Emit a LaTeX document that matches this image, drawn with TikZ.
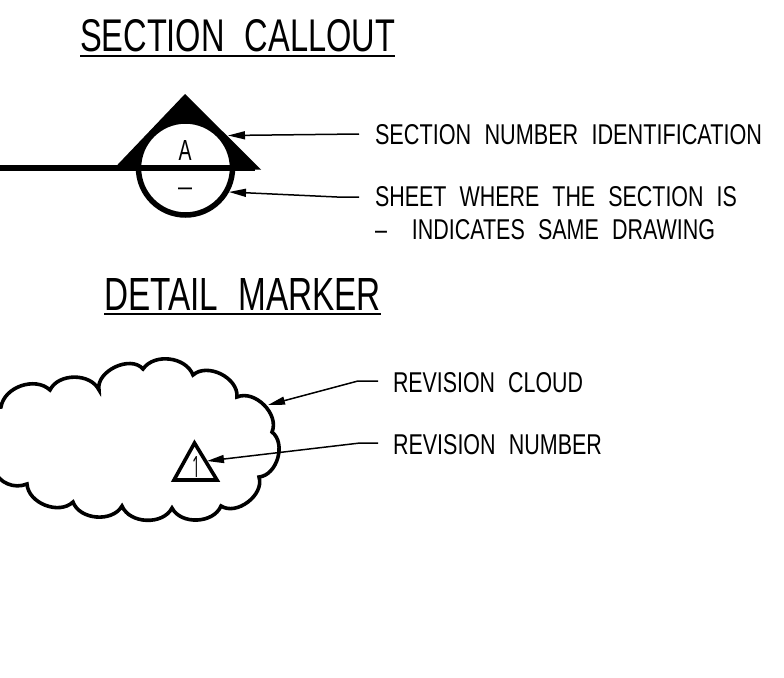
\documentclass[tikz,border=0pt]{standalone}
\usepackage{fontspec}
\setmainfont{Liberation Sans}[WordSpace=2.2]
\newfontfamily\numfont{Open Sans}
\usetikzlibrary{arrows.meta}
\newcommand{\cadtext}[3]{\resizebox{#1pt}{#2pt}{#3}}
\tikzset{
  cadlabel/.style={inner sep=0pt,outer sep=0pt,anchor=south west},
  cadmark/.style={inner sep=0pt,outer sep=0pt,anchor=center},
  leader/.style={line width=1.5pt,-{Triangle[length=17pt,width=8pt]}},
  underline/.style={line width=2pt}
}
\begin{document}
\begin{tikzpicture}[x=1pt,y=-1pt]
\useasboundingbox (0,0) rectangle (784,677);
\clip (0,0) rectangle (784,677);
% titles
\node[cadlabel] (t1) at (80,52) {\cadtext{315}{32}{SECTION CALLOUT}};
\draw[underline] (t1.south west)++(0,4) coordinate (u1a) -- (u1a -| t1.south east);
\node[cadlabel] (t2) at (104,310) {\cadtext{277}{32}{DETAIL MARKER}};
\draw[underline] (t2.south west)++(0,4) coordinate (u2a) -- (u2a -| t2.south east);
% section callout
\coordinate (c) at (185.5,168);
\fill (185,94) -- (261,169.5) -- (113,169.5) -- cycle;
\draw[line width=5.5pt,fill=white] (c) circle[radius=47];
\draw[line width=5.5pt] (0,168) coordinate (w) -- (255,168) coordinate (e);
\node[cadmark] (A) at (185,150) {\cadtext{13}{20}{A}};
\node[cadmark] (dash) at (185,191.5) {\cadtext{14}{7.5}{–}};
% labels
\node[cadlabel] (l1) at (375,145) {\cadtext{387}{20}{SECTION NUMBER IDENTIFICATION}};
\node[cadlabel] (l2) at (375,207) {\cadtext{362}{20}{SHEET WHERE THE SECTION IS}};
\node[cadlabel] (l3) at (375,240) {\cadtext{340}{20}{–\hspace{0.55em} INDICATES SAME DRAWING}};
\node[cadlabel] (l4) at (393,393) {\cadtext{190}{20}{REVISION CLOUD}};
\node[cadlabel] (l5) at (393,455) {\cadtext{209}{20}{REVISION NUMBER}};
% cloud
\draw[line width=3.6pt,line join=miter]
  (-14,440) to[bend left=70] (1,407) to[bend left=62] (50,390) to[bend left=64] (99,390)
  to[bend left=75] (143,369) to[bend left=62] (193,375) to[bend left=68] (237,397)
  to[bend left=68] (272,432) to[bend left=68] (259,477) to[bend left=70] (221,506)
  to[bend left=65] (172,508) to[bend left=65] (122,506) to[bend left=65] (73,502)
  to[bend left=65] (27,484) to[bend left=45] (-6,470);
% revision triangle
\coordinate (ta) at (194.5,443);
\coordinate (tb) at (217,480);
\coordinate (tc) at (174,480);
\draw[line width=3.6pt,line join=miter] (ta) -- (tb) -- (tc) -- cycle;
\node[cadmark] (one) at (196,467) {\cadtext{8}{21}{\numfont 1}};
% leaders
\coordinate (h1) at (228,135.5);
\coordinate (h2) at (229,192);
\coordinate (h3) at (268,405);
\coordinate (h4) at (207,461);
\coordinate (k2) at (337,197);
\coordinate (k3) at (358,381);
\coordinate (k4) at (360,443);
\draw[leader] (359,134) coordinate (s1) -- (h1);
\draw[leader] (359,197) coordinate (s2) -- (k2) -- (h2);
\draw[leader] (378,381) coordinate (s3) -- (k3) -- (h3);
\draw[leader] (378,443) coordinate (s4) -- (k4) -- (h4);
\end{tikzpicture}
\end{document}
